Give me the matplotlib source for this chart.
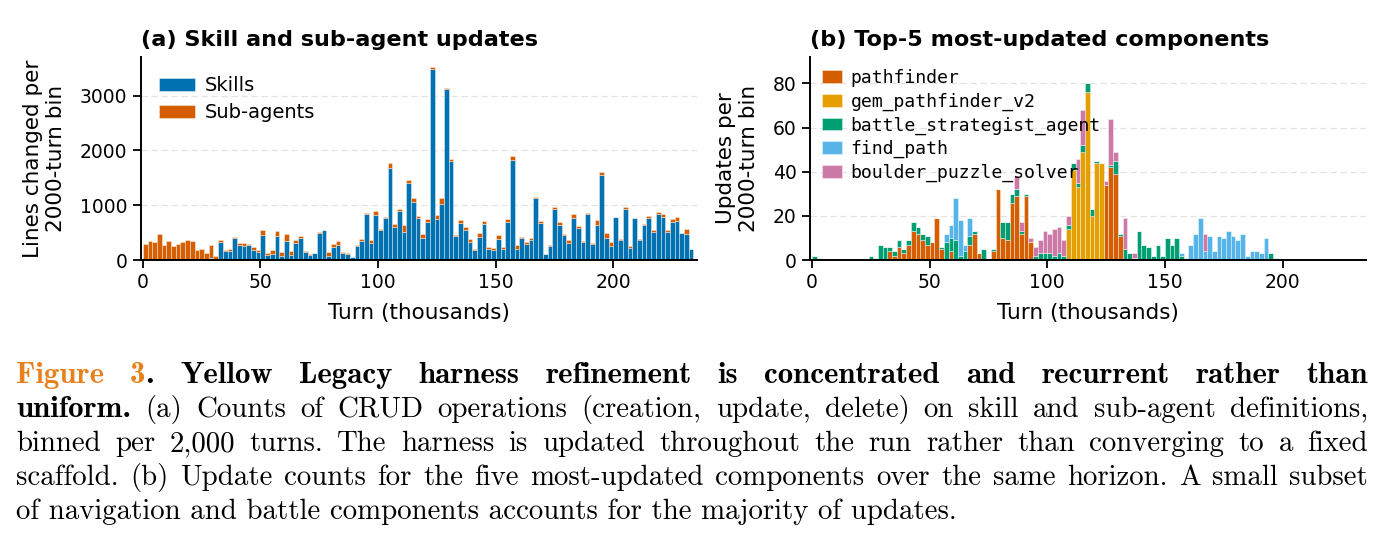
import os
import matplotlib
matplotlib.use("Agg")
import matplotlib.pyplot as plt
import numpy as np
from matplotlib.font_manager import FontProperties
from matplotlib import get_data_path

# ---------------- data ----------------
# Panel (a): lines changed per 2000-turn bin (117 bins, 0 .. 234k turns)
skills = [0, 0, 0, 0, 0, 0, 0, 0, 0, 0,
          0, 0, 0, 0, 30, 20, 331, 160, 160, 405,
          276, 258, 270, 178, 141, 460, 86, 110, 442, 74,
          350, 86, 319, 405, 153, 98, 123, 497, 540, 74,
          245, 282, 123, 110, 49, 260, 352, 835, 315, 828,
          541, 761, 1673, 602, 899, 516, 1400, 1058, 774, 396,
          695, 3488, 744, 1018, 3116, 1799, 445, 683, 543, 335,
          189, 427, 652, 207, 183, 384, 195, 701, 1829, 207,
          396, 299, 372, 1134, 671, 104, 250, 933, 646, 457,
          317, 762, 591, 335, 841, 287, 640, 1549, 409, 262,
          780, 372, 939, 213, 762, 360, 646, 774, 518, 848,
          793, 512, 695, 713, 494, 470, 201]
subagents = [290, 346, 336, 474, 272, 355, 254, 300, 330, 364,
             352, 178, 195, 125, 244, 48, 31, 24, 42, 24,
             31, 49, 31, 55, 49, 86, 37, 68, 86, 67,
             116, 86, 43, 31, 7, 6, 12, 18, 12, 79,
             43, 62, 18, 13, 6, 10, 40, 22, 46, 71,
             22, 25, 100, 56, 40, 120, 64, 73, 22, 80,
             55, 42, 73, 116, 30, 49, 18, 49, 55, 55,
             18, 67, 61, 25, 37, 67, 49, 43, 73, 61,
             25, 30, 37, 18, 42, 6, 18, 37, 49, 19,
             49, 79, 31, 19, 25, 24, 92, 61, 79, 67,
             13, 18, 31, 37, 12, 24, 19, 31, 31, 36,
             48, 37, 55, 74, 6, 103, 6]

# Panel (b): updates per 2000-turn bin for the top-5 components
pathfinder = [0, 0, 0, 0, 0, 0, 0, 0, 0, 0,
              0, 0, 0, 0, 0, 0, 4, 2, 6, 3,
              7, 13, 12, 9, 7, 8, 19, 5, 0, 4,
              0, 0, 0, 7, 12, 3, 0, 0, 4, 32,
              10, 9, 26, 29, 12, 29, 8, 0, 0, 0,
              0, 0, 0, 0, 0, 0, 0, 0, 0, 0,
              0, 0, 34, 42, 39, 11, 0, 0, 0, 0,
              0, 0, 0, 0, 0, 0, 0, 0, 0, 0,
              0, 0, 0, 0, 0, 0, 0, 0, 0, 0,
              0, 0, 0, 0, 0, 0, 0, 0, 0, 0,
              0, 0, 0, 0, 0, 0, 0, 0, 0, 0,
              0, 0, 0, 0, 0, 0, 0]
gem_pathfinder_v2 = [0, 0, 0, 0, 0, 0, 0, 0, 0, 0,
                     0, 0, 0, 0, 0, 0, 0, 0, 0, 0,
                     0, 0, 0, 0, 0, 0, 0, 0, 0, 0,
                     0, 0, 0, 0, 0, 0, 0, 0, 0, 0,
                     0, 0, 0, 0, 0, 0, 0, 0, 0, 0,
                     0, 0, 0, 0, 14, 41, 33, 49, 76, 20,
                     44, 44, 0, 0, 0, 0, 0, 0, 0, 0,
                     0, 0, 0, 0, 0, 0, 0, 0, 0, 0,
                     0, 0, 0, 0, 0, 0, 0, 0, 0, 0,
                     0, 0, 0, 0, 0, 0, 0, 0, 0, 0,
                     0, 0, 0, 0, 0, 0, 0, 0, 0, 0,
                     0, 0, 0, 0, 0, 0, 0]
battle_strategist_agent = [2, 1, 0, 0, 0, 0, 0, 0, 0, 0,
                           0, 0, 2, 1, 7, 6, 2, 2, 3, 2,
                           2, 4, 3, 3, 4, 0, 0, 1, 8, 6,
                           9, 2, 4, 4, 1, 0, 5, 0, 1, 0,
                           7, 8, 4, 3, 1, 1, 0, 2, 3, 3,
                           3, 2, 3, 2, 2, 3, 2, 3, 4, 3,
                           1, 0, 0, 1, 6, 1, 5, 3, 1, 13,
                           7, 6, 2, 7, 2, 10, 7, 10, 2, 0,
                           0, 0, 0, 0, 0, 0, 0, 0, 0, 0,
                           0, 0, 0, 0, 0, 0, 0, 3, 1, 0,
                           0, 0, 0, 0, 0, 0, 0, 0, 0, 0,
                           0, 0, 0, 0, 0, 0, 0]
find_path = [0, 0, 0, 0, 0, 0, 0, 0, 0, 0,
             0, 0, 0, 0, 0, 0, 0, 0, 0, 0,
             0, 0, 0, 0, 0, 0, 0, 0, 4, 6,
             19, 16, 3, 8, 0, 0, 0, 0, 0, 0,
             0, 0, 0, 0, 0, 0, 0, 0, 0, 0,
             0, 0, 0, 0, 0, 0, 0, 0, 0, 0,
             0, 0, 0, 0, 0, 0, 0, 0, 0, 0,
             0, 0, 0, 0, 0, 0, 0, 0, 1, 1,
             7, 12, 19, 4, 11, 4, 11, 10, 13, 11,
             9, 12, 2, 4, 4, 3, 10, 0, 0, 0,
             0, 0, 0, 0, 0, 0, 0, 0, 0, 0,
             0, 0, 0, 0, 0, 0, 0]
boulder_puzzle_solver = [0, 0, 0, 0, 0, 0, 0, 0, 0, 0,
                         0, 0, 0, 0, 0, 0, 0, 0, 0, 0,
                         0, 0, 0, 0, 0, 0, 0, 0, 0, 0,
                         0, 0, 0, 0, 0, 0, 0, 0, 0, 0,
                         0, 0, 0, 6, 4, 0, 2, 4, 6, 10,
                         9, 12, 12, 7, 4, 0, 11, 16, 0, 0,
                         0, 0, 2, 21, 4, 0, 14, 0, 2, 0,
                         0, 0, 0, 0, 0, 0, 0, 0, 0, 0,
                         0, 0, 0, 8, 0, 0, 0, 0, 0, 0,
                         0, 0, 0, 0, 0, 0, 0, 0, 0, 0,
                         0, 0, 0, 0, 0, 0, 0, 0, 0, 0,
                         0, 0, 0, 0, 0, 0, 0]

components = ["pathfinder", "gem_pathfinder_v2", "battle_strategist_agent",
              "find_path", "boulder_puzzle_solver"]
component_values = [pathfinder, gem_pathfinder_v2, battle_strategist_agent,
                    find_path, boulder_puzzle_solver]
component_colors = ["#D55E00", "#E69F00", "#009E73", "#56B4E9", "#CC79A7"]

bin_size = 2.0  # thousands of turns
xticks_a = [0, 50, 100, 150, 200]
yticks_a = [0, 1000, 2000, 3000]
yticks_b = [0, 20, 40, 60, 80]

caption_lines = [
    [[("Figure", "b", "o")], [("3", "b", "o"), (".", "b", "k")],
     [("Yellow", "b", "k")], [("Legacy", "b", "k")], [("harness", "b", "k")],
     [("refinement", "b", "k")], [("is", "b", "k")], [("concentrated", "b", "k")],
     [("and", "b", "k")], [("recurrent", "b", "k")], [("rather", "b", "k")],
     [("than", "b", "k")]],
    [[("uniform.", "b", "k")]] + [[(w, "r", "k")] for w in
     "(a) Counts of CRUD operations (creation, update, delete) on skill and sub-agent definitions,".split()],
    [[(w, "r", "k")] for w in
     "binned per 2,000 turns. The harness is updated throughout the run rather than converging to a fixed".split()],
    [[(w, "r", "k")] for w in
     "scaffold. (b) Update counts for the five most-updated components over the same horizon. A small subset".split()],
]
caption_last = "of navigation and battle components accounts for the majority of updates."

# ---------------- figure ----------------
W, H = 1391, 548
fig = plt.figure(figsize=(W / 100, H / 100), dpi=100)
fig.patch.set_facecolor("white")

n = len(skills)
xc = np.arange(n) * bin_size + bin_size / 2

axA = fig.add_axes([140.7 / W, (H - 260) / H, (697 - 140.7) / W, 203 / H])
axB = fig.add_axes([810 / W, (H - 260) / H, (1366 - 810) / W, 203 / H])

edge = (1, 1, 1, 0.55)
axA.bar(xc, skills, width=bin_size, color="#0072B2", edgecolor=edge,
        linewidth=0.5, label="Skills", zorder=2)
axA.bar(xc, subagents, width=bin_size, bottom=skills, color="#D55E00",
        edgecolor=edge, linewidth=0.5, label="Sub-agents", zorder=2)

bottom = np.zeros(n)
for name, vals, col in zip(components, component_values, component_colors):
    axB.bar(xc, vals, width=bin_size, bottom=bottom, color=col,
            edgecolor=edge, linewidth=0.5, label=name, zorder=2)
    bottom = bottom + np.array(vals)

for ax in (axA, axB):
    for s in ("top", "right"):
        ax.spines[s].set_visible(False)
    for s in ("left", "bottom"):
        ax.spines[s].set_linewidth(1.4)
    ax.tick_params(axis="both", which="major", length=6, width=1.3,
                   labelsize=13.5, direction="out")
    ax.yaxis.grid(True, linestyle=(0, (5, 3)), color="#e2e2e2", linewidth=0.9)
    ax.set_axisbelow(True)
    ax.set_xlim(-0.9, 235.5)
    ax.set_xticks(xticks_a)
    ax.set_xlabel("Turn (thousands)", fontsize=15.5, labelpad=8)

axA.set_ylim(0, 3707)
axA.set_yticks(yticks_a)
axB.set_ylim(0, 92)
axB.set_yticks(yticks_b)

axA.set_ylabel("Lines changed per\n2000-turn bin", fontsize=15.5, labelpad=10)
axB.set_ylabel("Updates per\n2000-turn bin", fontsize=15.5, labelpad=10)
axA.set_title("(a) Skill and sub-agent updates", loc="left",
              fontweight="bold", fontsize=16.1, pad=8)
axB.set_title("(b) Top-5 most-updated components", loc="left",
              fontweight="bold", fontsize=16.1, pad=8)

axA.legend(loc="upper left", bbox_to_anchor=(0.033, 0.905), frameon=False,
           fontsize=14, handlelength=1.85, handleheight=0.7,
           handletextpad=0.5, labelspacing=0.42, borderpad=0, borderaxespad=0)
axB.legend(loc="upper left", bbox_to_anchor=(0.0216, 0.94), frameon=False,
           prop=FontProperties(family="DejaVu Sans Mono", size=13.1),
           handlelength=1.12, handleheight=0.7, handletextpad=0.45,
           labelspacing=0.3, borderpad=0, borderaxespad=0)

# ---------------- caption ----------------
ttf = os.path.join(get_data_path(), "fonts", "ttf")
fp_r = FontProperties(fname=os.path.join(ttf, "cmr10.ttf"))
fp_b = FontProperties(fname=os.path.join(ttf, "cmb10.ttf"))
fps = {"r": fp_r, "b": fp_b}
cols = {"k": "black", "o": "#E8801E"}

fig.canvas.draw()
renderer = fig.canvas.get_renderer()


def measure(s, fp, size):
    t = fig.text(0, 0, s, fontproperties=fp, fontsize=size)
    w = t.get_window_extent(renderer).width
    t.remove()
    return w


x0, x1 = 16.0, 1368.0
base = 20.0
w_last = measure(caption_last, fp_r, base)
csize = base * (958.0 - x0) / w_last

# bold size: line 1 set with near-natural inter-word spacing, capped in height
line1 = caption_lines[0]
w1 = sum(measure(seg, fps[st], base) for word in line1 for seg, st, c in word)
space_per_pt = 0.42 * 100 / 72
bsize = (x1 - x0) / (w1 / base + (len(line1) - 1) * space_per_pt)
bsize = min(bsize, csize * 1.07)
sizes = {"r": csize, "b": bsize}

baselines = [383, 417, 451, 485, 519]
for line, yb in zip(caption_lines, baselines):
    widths = []
    for word in line:
        widths.append([measure(seg, fps[st], sizes[st]) for seg, st, c in word])
    total = sum(sum(w) for w in widths)
    gap = (x1 - x0 - total) / (len(line) - 1)
    x = x0
    for word, ws in zip(line, widths):
        for (seg, st, c), w in zip(word, ws):
            fig.text(x / W, 1 - yb / H, seg, fontproperties=fps[st],
                     fontsize=sizes[st], color=cols[c], ha="left",
                     va="baseline")
            x += w
        x += gap
fig.text(x0 / W, 1 - baselines[4] / H, caption_last, fontproperties=fp_r,
         fontsize=csize, color="black", ha="left", va="baseline")

fig.savefig("out.png", dpi=100, facecolor="white")
